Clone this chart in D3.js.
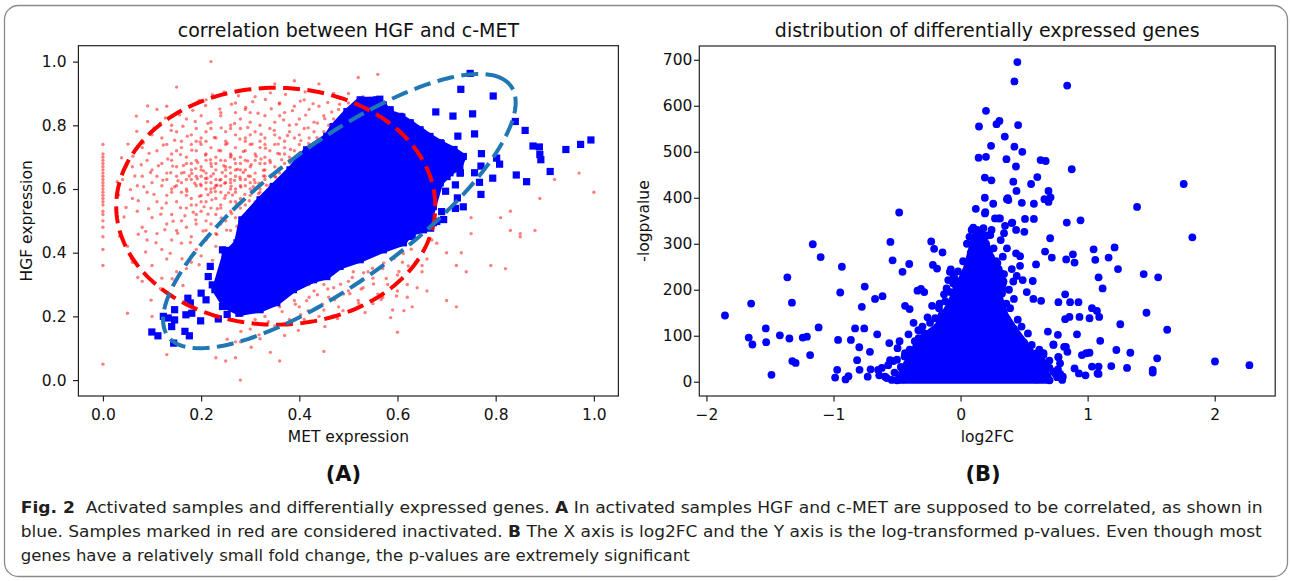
<!DOCTYPE html>
<html>
<head>
<meta charset="utf-8">
<script src="https://cdn.jsdelivr.net/npm/d3@7"></script>
<style>
  body { margin: 0; background: #fff; }
  svg text { font-family: "DejaVu Sans", sans-serif; }
</style>
</head>
<body>
<svg id="fig" width="1290" height="581"></svg>
<script>
// ---- panel A data: [MET expression, HGF expression] ----
const inactiveSamples = [
  [0.15,0.92],[0.18,0.86],[0.21,0.88],[0.27,0.87],[0.31,0.89],[0.35,0.93],[0.39,0.94],[0.44,0.93],[0.41,0.88],[0.47,0.9],
  [0.52,0.95],[0.56,0.96],[0.22,1.0],[0.29,0.85],[0.36,0.87],[0.24,0.84],[0.13,0.86],[0.11,0.85],[0.2,0.83],[0.5,0.9],
  [0.14,0.8],[0.17,0.82],[0.19,0.79],[0.22,0.81],[0.24,0.83],[0.26,0.8],[0.28,0.82],[0.3,0.84],[0.32,0.8],[0.33,0.83],
  [0.35,0.81],[0.37,0.84],[0.38,0.8],[0.4,0.82],[0.42,0.85],[0.43,0.81],[0.45,0.83],[0.46,0.8],[0.48,0.85],[0.3,0.81],
  [0.27,0.84],[0.36,0.83],[0.39,0.86],[0.44,0.86],[0.5,0.87],[0.25,0.78],[0.21,0.78],[0.47,0.82],[0.49,0.8],[0.53,0.89],
  [0.1,0.77],[0.12,0.76],[0.15,0.78],[0.16,0.75],[0.18,0.77],[0.2,0.76],[0.22,0.79],[0.23,0.76],[0.25,0.75],[0.27,0.77],
  [0.28,0.79],[0.29,0.76],[0.31,0.78],[0.33,0.76],[0.34,0.79],[0.35,0.77],[0.37,0.75],[0.38,0.78],[0.39,0.76],[0.41,0.79],
  [0.42,0.76],[0.43,0.78],[0.44,0.75],[0.45,0.78],[0.46,0.76],[0.47,0.79],[0.32,0.75],[0.26,0.79],[0.19,0.75],[0.4,0.77],
  [0.36,0.76],[0.3,0.77],[0.08,0.73],[0.11,0.72],[0.13,0.74],[0.14,0.71],[0.16,0.73],[0.17,0.7],[0.19,0.72],[0.2,0.74],
  [0.21,0.71],[0.22,0.73],[0.23,0.7],[0.24,0.72],[0.25,0.74],[0.26,0.71],[0.27,0.73],[0.28,0.7],[0.29,0.72],[0.3,0.74],
  [0.31,0.71],[0.32,0.73],[0.33,0.7],[0.34,0.72],[0.35,0.74],[0.36,0.71],[0.37,0.73],[0.38,0.7],[0.39,0.72],[0.4,0.74],
  [0.41,0.71],[0.42,0.73],[0.43,0.74],[0.21,0.75],[0.29,0.75],[0.18,0.74],[0.33,0.74],[0.26,0.7],[0.15,0.72],[0.37,0.71],
  [0.06,0.67],[0.09,0.69],[0.1,0.66],[0.12,0.68],[0.13,0.65],[0.14,0.69],[0.15,0.67],[0.16,0.65],[0.17,0.68],[0.18,0.66],
  [0.19,0.69],[0.2,0.67],[0.21,0.65],[0.22,0.68],[0.23,0.66],[0.24,0.69],[0.25,0.67],[0.26,0.65],[0.27,0.68],[0.28,0.66],
  [0.29,0.69],[0.3,0.67],[0.31,0.65],[0.32,0.68],[0.33,0.66],[0.34,0.69],[0.35,0.67],[0.36,0.65],[0.37,0.68],[0.38,0.69],
  [0.39,0.67],[0.21,0.69],[0.25,0.66],[0.28,0.68],[0.31,0.69],[0.18,0.68],[0.23,0.68],[0.27,0.66],[0.33,0.68],[0.2,0.66],
  [0.29,0.66],[0.04,0.63],[0.07,0.61],[0.08,0.64],[0.1,0.62],[0.11,0.64],[0.12,0.61],[0.13,0.63],[0.14,0.6],[0.15,0.64],
  [0.16,0.62],[0.17,0.6],[0.18,0.63],[0.19,0.61],[0.2,0.64],[0.21,0.62],[0.22,0.6],[0.23,0.63],[0.24,0.61],[0.25,0.64],
  [0.26,0.62],[0.27,0.6],[0.28,0.63],[0.29,0.61],[0.3,0.64],[0.31,0.62],[0.32,0.6],[0.33,0.63],[0.34,0.61],[0.35,0.64],
  [0.36,0.62],[0.19,0.64],[0.22,0.62],[0.24,0.63],[0.26,0.6],[0.28,0.61],[0.3,0.62],[0.21,0.6],[0.23,0.61],[0.25,0.62],
  [0.27,0.64],[0.29,0.63],[0.31,0.6],[0.33,0.64],[0.17,0.63],[0.2,0.61],[0.15,0.61],[0.26,0.63],[0.22,0.64],[0.06,0.57],
  [0.09,0.59],[0.11,0.56],[0.13,0.58],[0.15,0.56],[0.16,0.59],[0.18,0.57],[0.19,0.55],[0.2,0.58],[0.21,0.56],[0.22,0.59],
  [0.23,0.57],[0.24,0.55],[0.25,0.58],[0.26,0.56],[0.27,0.59],[0.28,0.57],[0.29,0.55],[0.3,0.58],[0.31,0.56],[0.32,0.59],
  [0.33,0.57],[0.24,0.59],[0.2,0.56],[0.27,0.56],[0.17,0.58],[0.14,0.59],[0.3,0.6],[0.07,0.53],[0.1,0.51],[0.12,0.54],
  [0.14,0.52],[0.16,0.5],[0.17,0.54],[0.19,0.52],[0.21,0.5],[0.22,0.54],[0.23,0.52],[0.25,0.5],[0.26,0.53],[0.27,0.51],
  [0.28,0.54],[0.29,0.52],[0.2,0.53],[0.24,0.54],[0.18,0.55],[0.08,0.48],[0.11,0.46],[0.13,0.49],[0.15,0.47],[0.18,0.45],
  [0.19,0.49],[0.21,0.47],[0.23,0.46],[0.24,0.49],[0.26,0.47],[0.22,0.49],[0.17,0.48],[0.05,0.42],[0.09,0.44],[0.12,0.41],
  [0.16,0.43],[0.19,0.41],[0.21,0.44],[0.23,0.42],[0.14,0.44],[0.06,0.37],[0.1,0.36],[0.13,0.38],[0.15,0.34],[0.18,0.37],
  [0.2,0.39],[0.08,0.31],[0.12,0.32],[0.17,0.35],[0.05,0.21],[0.1,0.2],[0.13,0.08],[0.23,0.07],[0.25,0.06],[0.27,0.07],
  [0.28,0.0],[0.36,0.06],[0.45,0.09],[0.27,0.12],[0.28,0.12],[0.3,0.16],[0.32,0.13],[0.37,0.14],[0.33,0.2],[0.36,0.23],
  [0.39,0.25],[0.4,0.23],[0.42,0.26],[0.43,0.28],[0.45,0.22],[0.47,0.29],[0.48,0.23],[0.5,0.31],[0.51,0.34],[0.52,0.25],
  [0.53,0.29],[0.55,0.32],[0.56,0.27],[0.57,0.35],[0.58,0.3],[0.59,0.22],[0.6,0.33],[0.61,0.37],[0.62,0.26],[0.63,0.23],
  [0.65,0.36],[0.66,0.38],[0.65,0.34],[0.67,0.44],[0.68,0.43],[0.7,0.4],[0.7,0.25],[0.72,0.23],[0.72,0.36],[0.73,0.4],
  [0.74,0.34],[0.75,0.46],[0.75,0.51],[0.79,0.36],[0.81,0.51],[0.82,0.35],[0.83,0.53],[0.83,0.47],[0.85,0.46],[0.85,0.45],
  [0.88,0.47],[0.89,0.57],[0.92,0.63],[0.97,0.65],[1.0,0.59],[0.6,0.15],[0.41,0.19],[0.44,0.2],[0.46,0.26],[0.49,0.27],
  [0.38,0.19],[0.35,0.17],[0.31,0.19],[0.29,0.21],[0.42,0.3],[0.45,0.3],[0.5,0.28],[0.54,0.34],[0.55,0.24],[0.57,0.26],
  [0.6,0.28],[0.62,0.3],[0.64,0.29],[0.66,0.28],
  [0,0.74],[0,0.71],[0,0.7],[0,0.69],[0,0.68],[0,0.67],[0,0.66],[0,0.65],[0,0.64],[0,0.63],[0,0.62],[0,0.61],[0,0.6],
  [0,0.59],[0,0.58],[0,0.57],[0,0.56],[0,0.55],[0,0.53],[0,0.52],[0,0.5],[0,0.48],[0,0.45],[0,0.41],[0,0.36],[0,0.05],
  [0.212,0.634],[0.187,0.618],[0.243,0.652],[0.268,0.627],[0.296,0.641],[0.318,0.618],[0.227,0.603],[0.256,0.588],
  [0.281,0.606],[0.205,0.657],[0.176,0.641],[0.153,0.626],[0.138,0.651],[0.164,0.674],[0.193,0.683],[0.221,0.671],
  [0.249,0.689],[0.274,0.662],[0.302,0.676],[0.327,0.659],[0.341,0.683],[0.358,0.664],[0.312,0.703],[0.286,0.718],
  [0.261,0.705],[0.236,0.721],[0.209,0.707],[0.181,0.722],[0.158,0.708],[0.132,0.694],[0.113,0.673],[0.097,0.652],
  [0.122,0.628],[0.146,0.607],[0.171,0.593],[0.197,0.577],[0.222,0.566],[0.248,0.571],[0.273,0.552],[0.298,0.563],
  [0.233,0.538],[0.206,0.544],[0.184,0.527],[0.158,0.541],[0.129,0.556],[0.104,0.583],[0.083,0.607],[0.065,0.641],
  [0.078,0.676],[0.094,0.712],[0.123,0.738],[0.146,0.753],[0.172,0.766],[0.198,0.748],[0.227,0.762],[0.253,0.743],
  [0.279,0.757],[0.304,0.741],[0.331,0.728],[0.357,0.741],[0.382,0.724],[0.403,0.752],[0.376,0.768],[0.349,0.784],
  [0.322,0.772],[0.295,0.793],[0.268,0.806],[0.241,0.792],[0.214,0.806],[0.188,0.812],[0.163,0.797],[0.139,0.784],
  [0.117,0.807],[0.156,0.833],[0.183,0.847],[0.209,0.862],[0.238,0.851],[0.262,0.866],[0.291,0.856],[0.316,0.838],
  [0.343,0.852],[0.368,0.817],[0.394,0.803],[0.418,0.792],[0.437,0.807],[0.452,0.821],[0.466,0.842],[0.413,0.832],
  [0.386,0.846],[0.359,0.867],[0.331,0.881],[0.305,0.874],[0.276,0.893],[0.247,0.905],[0.223,0.896],[0.196,0.878],
  [0.341,0.902],[0.372,0.897],[0.402,0.876],[0.428,0.868],[0.458,0.872],[0.482,0.866],[0.477,0.888],[0.412,0.905],
  [0.436,0.761],[0.419,0.743],[0.392,0.701],[0.364,0.692],[0.371,0.653],[0.352,0.637],[0.333,0.612],[0.317,0.585],
  [0.303,0.532],[0.287,0.511],[0.262,0.523],[0.241,0.509],[0.214,0.521],[0.189,0.503],[0.167,0.516],[0.143,0.499],
  [0.118,0.521],[0.093,0.538],[0.072,0.563],[0.056,0.598],[0.048,0.672],[0.061,0.703],[0.082,0.744],[0.104,0.792],
  [0.127,0.823],[0.273,0.483],[0.252,0.471],[0.232,0.457],[0.204,0.468],[0.178,0.432],[0.152,0.461],[0.126,0.472],
  [0.108,0.431],[0.087,0.402],[0.137,0.398],[0.161,0.381],[0.196,0.362],[0.223,0.376],[0.243,0.352],[0.072,0.458],
  [0.043,0.512],[0.032,0.581],[0.029,0.623],[0.038,0.698],[0.051,0.741],[0.069,0.781],[0.091,0.812],[0.214,0.582],
  [0.229,0.592],[0.261,0.609],[0.238,0.628],[0.199,0.615],[0.181,0.649],[0.225,0.648],[0.259,0.668],[0.286,0.652],
  [0.308,0.629],[0.342,0.642],[0.289,0.583],[0.264,0.581],[0.209,0.633],[0.248,0.618],[0.279,0.637],[0.219,0.692],
  [0.246,0.673],[0.268,0.694],[0.295,0.688],[0.322,0.694],[0.189,0.664],[0.165,0.652],[0.142,0.672],[0.192,0.632],
  [0.232,0.612],[0.306,0.607],[0.327,0.641],[0.356,0.712],[0.381,0.683],[0.401,0.714],[0.421,0.727],[0.446,0.742],
  [0.463,0.786],[0.479,0.812],
  [0.365,0.215],[0.392,0.238],[0.415,0.249],[0.437,0.268],[0.458,0.286],[0.484,0.301],[0.508,0.322],[0.531,0.337],
  [0.549,0.351],[0.572,0.368],[0.593,0.382],[0.612,0.397],[0.628,0.411],[0.418,0.218],[0.447,0.238],[0.472,0.252],
  [0.503,0.271],[0.526,0.286],[0.551,0.302],[0.577,0.319],[0.603,0.341],[0.622,0.358],[0.641,0.379],[0.337,0.183],
  [0.372,0.178],[0.403,0.205],[0.489,0.218],[0.521,0.241],[0.567,0.253],[0.598,0.264],[0.613,0.218],[0.586,0.196],
  [0.534,0.212],[0.478,0.193],[0.452,0.168],[0.398,0.156],[0.318,0.142],[0.281,0.153],[0.302,0.103],[0.341,0.087],
  [0.253,0.128],[0.047,0.542],[0.058,0.381],[0.071,0.322],[0.098,0.251],[0.117,0.287],[0.141,0.318],[0.163,0.297],
  [0.087,0.467],[0.034,0.452],[0.068,0.829],[0.091,0.861]
];

// solid mass of activated samples (outline) and the scattered ones around it
const activeCore = [
  [0.524,0.88],[0.558,0.88],[0.571,0.864],[0.585,0.839],[0.605,0.828],[0.626,0.808],[0.646,0.786],[0.666,0.765],
  [0.687,0.745],[0.714,0.723],[0.734,0.702],[0.727,0.671],[0.707,0.651],[0.687,0.619],[0.673,0.545],[0.666,0.503],
  [0.653,0.472],[0.626,0.462],[0.612,0.431],[0.571,0.409],[0.524,0.378],[0.483,0.357],[0.456,0.325],[0.429,0.315],
  [0.388,0.284],[0.354,0.243],[0.32,0.221],[0.279,0.211],[0.249,0.233],[0.228,0.284],[0.249,0.394],[0.273,0.431],
  [0.283,0.503],[0.32,0.566],[0.347,0.608],[0.381,0.66],[0.415,0.723],[0.456,0.765],[0.469,0.796],[0.497,0.843]
];
const activeSamples = [
  [0.0996,0.151],[0.112,0.139],[0.144,0.116],[0.14,0.168],[0.123,0.2],[0.133,0.195],[0.146,0.189],[0.146,0.221],
  [0.167,0.153],[0.176,0.139],[0.169,0.205],[0.181,0.21],[0.173,0.257],[0.178,0.242],[0.199,0.186],[0.2,0.273],
  [0.21,0.252],[0.2145,0.325],[0.2186,0.357],[0.235,0.192],[0.2435,0.231],[0.2435,0.409],[0.252,0.407],[0.2227,0.299],
  [0.253,0.206],[0.277,0.21],[0.302,0.221],
  [0.529,0.87],[0.564,0.882],[0.549,0.878],[0.585,0.849],[0.609,0.826],[0.609,0.807],[0.626,0.786],[0.624,0.749],
  [0.5,0.833],[0.522,0.849],[0.576,0.765],
  [0.647,0.723],[0.659,0.702],[0.672,0.681],[0.688,0.681],[0.705,0.702],[0.711,0.718],[0.726,0.671],[0.7275,0.65],
  [0.718,0.613],[0.701,0.639],[0.68,0.608],[0.659,0.556],[0.6635,0.524],[0.655,0.482],[0.6385,0.514],[0.6427,0.472],
  [0.63,0.451],[0.68,0.498],[0.6675,0.477],
  [0.748,0.963],[0.729,0.913],[0.795,0.892],[0.678,0.842],[0.713,0.829],[0.753,0.836],[0.757,0.773],[0.723,0.766],
  [0.84,0.812],[0.86,0.784],[0.673,0.75],[0.689,0.743],[0.715,0.724],[0.994,0.754],[0.973,0.74],[0.943,0.724],
  [0.876,0.735],[0.889,0.732],[0.89,0.708],[0.892,0.692],[0.911,0.655],[0.802,0.697],[0.808,0.678],[0.771,0.711],
  [0.77,0.672],[0.757,0.651],[0.842,0.644],[0.863,0.623],[0.794,0.634],[0.767,0.621],[0.77,0.583],[0.722,0.572],
  [0.734,0.544],[0.718,0.539],[0.698,0.593],[0.69,0.529],[0.694,0.504],[0.673,0.494],[0.707,0.682],[0.728,0.651]
];
// dashed ellipses drawn on panel A (data units, angle in degrees)
const inactiveEllipse = { cx: 0.352, cy: 0.546, w: 0.65, h: 0.744, angle: 0 };
const activeEllipse = { cx: 0.4816, cy: 0.5306, w: 1.064, h: 0.355, angle: 51.5 };

const ticksA = [0, 0.2, 0.4, 0.6, 0.8, 1.0];

// ---- panel B data: [log2FC, -logpvalue] ----
const geneCore = [
  [-0.5,3],[-0.42,40],[-0.35,75],[-0.28,100],[-0.18,120],[-0.12,150],[-0.06,180],[-0.02,210],[0.04,240],[0.08,280],
  [0.11,315],[0.16,322],[0.2,300],[0.24,270],[0.27,230],[0.3,190],[0.34,150],[0.42,115],[0.5,85],[0.58,55],
  [0.66,25],[0.7,3]
];
const genes = [
  [0.447,695],[0.424,653],[0.839,644],[0.2,589],[0.145,555],[0.283,560],[0.306,567],[0.453,558],[0.348,533],[0.24,513],
  [0.424,511],[0.486,500],[0.142,487],[0.2,489],[0.361,484],[0.436,468],[0.63,482],[0.67,480],[0.875,462],[0.191,444],
  [0.243,438],[0.415,435],[0.555,430],[0.604,445],[0.692,415],[0.708,401],[0.692,391],[0.66,397],[0.191,400],[0.371,399],
  [0.365,397],[0.44,415],[0.482,389],[0.577,387],[0.257,387],[0.12,376],[0.195,369],[0.3,355],[0.407,346],[0.507,354],
  [0.577,354],[0.836,346],[0.944,351],[1.756,430],[1.389,380],[1.824,314],
  [0.376,395],[0.192,366],[0.271,355],[0.31,355],[0.35,339],[0.403,345],[0.437,330],[0.502,326],[0.342,323],[0.705,312],
  [1.047,288],[1.212,292],[1.165,270],[1.06,265],[0.665,283],[0.718,270],[0.831,266],[0.884,277],[0.897,259],[0.437,279],
  [0.468,273],[0.594,255],[0.468,252],[1.239,245],[1.441,234],[1.555,227],[1.086,227],[1.118,203],[0.342,234],[0.403,245],
  [0.442,230],[0.489,221],[0.568,219],[0.415,218],[0.331,212],[0.521,195],[0.42,180],[0.573,180],[0.634,176],[0.77,173],
  [0.823,190],[0.862,173],[0.928,173],[1.034,160],[1.073,154],[1.091,141],[1.015,138],[0.936,141],[0.857,141],[0.823,136],
  [1.463,150],[1.257,125],[1.626,113],[0.916,103],[0.766,102],[0.687,109],[1.099,89],[0.731,81],[0.815,76],[0.841,65],
  [1.226,69],[1.336,63],[1.547,51],[0.955,58],[0.989,62],[1.015,63],[2.002,44],[2.273,36],[1.186,34],[1.31,30],
  [1.512,26],[1.512,20],[1.034,33],[1.086,33],[1.086,17],[0.897,29],[0.805,11],[0.784,17],[0.77,54],[0.699,46],
  [0.534,62],[0.573,58],[0.652,58],[0.744,18],[0.612,29],[0.679,33],[0.56,18],[0.8,4],[0.983,14],[1.078,18],
  [0.829,76],[0.731,80],[0.679,40],[0.77,53],[0.783,40],[0.766,27],[0.931,18],[0.6,62],[0.623,57],[0.653,62],
  [-0.483,368],[-0.552,304],[-0.535,264],[-1.163,299],[-1.101,271],[-0.934,250],[-0.947,194],[-1.363,227],[-1.327,172],
  [-1.648,170],[-1.854,144],[-0.754,207],[-0.777,163],[-0.673,180],[-0.614,186],[-0.404,256],[-0.457,239],[-0.231,305],
  [-0.208,289],[-0.142,281],[-0.218,254],[-0.185,246],[-0.437,165],[-0.401,158],[-0.339,198],[-0.286,195],[-0.312,202],
  [-1.117,118],[-1.533,116],[-1.667,96],[-1.638,81],[-1.53,86],[-1.422,101],[-1.347,94],[-1.242,96],[-1.209,98],
  [-1.488,15],[-1.324,45],[-1.298,41],[-1.184,58],[-0.964,91],[-0.863,91],[-0.83,116],[-0.758,116],[-0.797,75],
  [-0.814,47],[-0.713,65],[-0.795,26],[-0.987,9],[-0.971,26],[-0.905,5],[-0.882,12],[-0.656,103],[-0.731,11],
  [-0.708,27],[-0.649,26],[-0.561,84],[-0.496,73],[-0.555,47],[-0.529,45],[-0.437,62],[-0.594,11],[-0.541,4],
  [-0.26,140],[-0.224,165],[-0.165,170],[-0.332,112],[-0.286,105],
  [-0.077,244],[-0.054,231],[-0.034,205],[-0.011,192],[0.044,236],[0.064,250],[0.087,265],[0.113,273],[0.097,294],
  [0.12,314],[0.087,330],[0.159,325],[0.234,319],[0.244,330],[0.316,308],[0.365,290],[0.332,272],[0.29,258],
  [0.273,243],[0.316,236],[0.338,218],[0.296,209],[0.381,200],[0.326,192],
  [-0.084,239],[-0.097,221],[-0.058,214],[-0.11,203],[-0.032,185],[-0.13,190],
  [-0.58,8],[-0.52,20],[-0.47,32],[-0.5,48],[-0.44,55],[-0.4,70],[-0.36,88],[-0.33,95],[-0.3,120],[-0.24,128],
  [-0.2,138],[-0.15,145],[-0.17,160],[-0.12,175],[-0.08,195],[-0.05,225],[-0.02,240],[0.02,262],[0.05,300],[0.07,315],
  [0.1,335],[0.13,330],[0.18,334],[0.21,318],[0.26,290],[0.28,262],[0.3,245],[0.31,225],[0.33,200],[0.36,170],
  [0.39,160],[0.45,135],[0.48,120],[0.53,105],[0.56,80],[0.62,70],[0.64,45],[0.7,30],[0.73,22],[0.76,10],
  [0.68,12],[0.6,5],[-0.45,5],[-0.38,12],[-0.64,14],[-0.62,30],[-0.57,36],[-0.48,88],[-0.41,103],[-0.37,128]
];
const xTicksB = [-2, -1, 0, 1, 2];
const yTicksB = [0, 100, 200, 300, 400, 500, 600, 700];

const caption = [
  [["Fig. 2", true], ["  Activated samples and differentially expressed genes. ", false], ["A", true],
   [" In activated samples HGF and c-MET are supposed to be correlated, as shown in", false]],
  [["blue. Samples marked in red are considered inactivated. ", false], ["B", true],
   [" The X axis is log2FC and the Y axis is the log-transformed p-values. Even though most", false]],
  [["genes have a relatively small fold change, the p-values are extremely significant", false]]
];
const captionWidths = [1242, 1241, 669];

// ---------------------------------------------------------------
const svg = d3.select('#fig');
const tickFont = 15.5, labelFont = 15.5, titleFont = 19;

svg.append('rect')
  .attr('x', 4.5).attr('y', 5.5).attr('width', 1283).attr('height', 571)
  .attr('rx', 14).attr('fill', 'none').attr('stroke', '#8a8a8a').attr('stroke-width', 1.3);

function frame(g, x, y, xTicks, xFmt, yTicks, yFmt, yPad) {
  const [x0, x1] = x.range(), [y0, y1] = y.range();
  const xa = g.append('g').attr('transform', `translate(0,${y0})`)
    .call(d3.axisBottom(x).tickValues(xTicks).tickFormat(xFmt).tickSize(5.4).tickPadding(7.5));
  const ya = g.append('g').attr('transform', `translate(${x0},0)`)
    .call(d3.axisLeft(y).tickValues(yTicks).tickFormat(yFmt).tickSize(5.4).tickPadding(yPad));
  [xa, ya].forEach(a => {
    a.select('.domain').remove();
    a.selectAll('line').attr('stroke', '#222').attr('stroke-width', 1.2);
    a.selectAll('text').attr('font-size', tickFont).attr('fill', '#111')
      .attr('font-family', '"DejaVu Sans", sans-serif');
  });
  g.append('rect').attr('x', x0).attr('y', y1).attr('width', x1 - x0).attr('height', y0 - y1)
    .attr('fill', 'none').attr('stroke', '#222').attr('stroke-width', 1.2);
}

function clip(id, x, y) {
  svg.append('clipPath').attr('id', id).append('rect')
    .attr('x', x.range()[0]).attr('y', y.range()[1])
    .attr('width', x.range()[1] - x.range()[0]).attr('height', y.range()[0] - y.range()[1]);
}

function texts(g, x, y, title, xl, yl, ylX) {
  const cx = (x.range()[0] + x.range()[1]) / 2, cy = (y.range()[0] + y.range()[1]) / 2;
  g.append('text').attr('x', cx).attr('y', 36.5).attr('text-anchor', 'middle')
    .attr('font-size', titleFont).attr('fill', '#111').text(title);
  g.append('text').attr('x', cx).attr('y', 442).attr('text-anchor', 'middle')
    .attr('font-size', labelFont).attr('fill', '#111').text(xl);
  g.append('text').attr('transform', `translate(${ylX},${cy}) rotate(-90)`).attr('text-anchor', 'middle')
    .attr('font-size', labelFont).attr('fill', '#111').text(yl);
}

// ---- panel A ----
const xA = d3.scaleLinear().domain([-0.05, 1.05]).range([78.4, 618.4]);
const yA = d3.scaleLinear().domain([-0.05, 1.05]).range([396, 45.7]);
clip('clipA', xA, yA);
const gA = svg.append('g');
const plotA = gA.append('g').attr('clip-path', 'url(#clipA)');

plotA.selectAll('circle.inactive').data(inactiveSamples).enter().append('circle')
  .attr('class', 'inactive')
  .attr('cx', d => xA(d[0])).attr('cy', d => yA(d[1])).attr('r', 1.7)
  .attr('fill', '#ff0000').attr('fill-opacity', 0.5);

plotA.append('path').datum(activeCore)
  .attr('d', d3.line().x(d => xA(d[0])).y(d => yA(d[1])).curve(d3.curveLinearClosed))
  .attr('fill', '#0000ff').attr('stroke', '#0000ff').attr('stroke-width', 6).attr('stroke-linejoin', 'miter');

const sq = 7.2;
plotA.selectAll('rect.active').data(activeCore.concat(activeSamples)).enter().append('rect')
  .attr('class', 'active')
  .attr('x', d => xA(d[0]) - sq / 2).attr('y', d => yA(d[1]) - sq / 2)
  .attr('width', sq).attr('height', sq).attr('fill', '#0000ff');

function ellipsePoints(e) {
  const a = e.angle * Math.PI / 180;
  return d3.range(0, 361, 2).map(deg => {
    const t = deg * Math.PI / 180;
    const u = e.w / 2 * Math.cos(t), v = e.h / 2 * Math.sin(t);
    return [e.cx + u * Math.cos(a) - v * Math.sin(a), e.cy + u * Math.sin(a) + v * Math.cos(a)];
  });
}
const lineA = d3.line().x(d => xA(d[0])).y(d => yA(d[1]));
plotA.append('path').datum(ellipsePoints(inactiveEllipse)).attr('d', lineA)
  .attr('fill', 'none').attr('stroke', '#ff0000').attr('stroke-width', 4).attr('stroke-dasharray', '17 7.4');
plotA.append('path').datum(ellipsePoints(activeEllipse)).attr('d', lineA)
  .attr('fill', 'none').attr('stroke', '#1f77b4').attr('stroke-width', 4).attr('stroke-dasharray', '17 7.4');

frame(gA, xA, yA, ticksA, d3.format('.1f'), ticksA, d3.format('.1f'), 6.5);
texts(gA, xA, yA, 'correlation between HGF and c-MET', 'MET expression', 'HGF expression', 31.5);

// ---- panel B ----
const xB = d3.scaleLinear().domain([-2.056, 2.476]).range([699.3, 1275.2]);
const yB = d3.scaleLinear().domain([-31, 730]).range([396, 46]);
clip('clipB', xB, yB);
const gB = svg.append('g');
const plotB = gB.append('g').attr('clip-path', 'url(#clipB)');

plotB.append('path').datum(geneCore)
  .attr('d', d3.line().x(d => xB(d[0])).y(d => yB(d[1])).curve(d3.curveLinearClosed))
  .attr('fill', '#0000ff').attr('stroke', '#0000ff').attr('stroke-width', 7).attr('stroke-linejoin', 'round');

plotB.selectAll('circle.gene').data(geneCore.concat(genes)).enter().append('circle')
  .attr('class', 'gene')
  .attr('cx', d => xB(d[0])).attr('cy', d => yB(d[1])).attr('r', 3.9)
  .attr('fill', '#0000ff');

frame(gB, xB, yB, xTicksB, d3.format('d'), yTicksB, d3.format('d'), 1.5);
texts(gB, xB, yB, 'distribution of differentially expressed genes', 'log2FC', '-logpvalue', 649);

// ---- panel letters and caption ----
[['(A)', 343.5], ['(B)', 983]].forEach(([t, x]) => {
  svg.append('text').attr('x', x).attr('y', 481).attr('text-anchor', 'middle')
    .attr('font-size', 21).attr('font-weight', 'bold').attr('fill', '#111').text(t);
});

caption.forEach((line, i) => {
  const t = svg.append('text').attr('x', 20.7).attr('y', 512.5 + i * 24)
    .attr('font-family', '"Open Sans", sans-serif').attr('font-size', 16).attr('fill', '#231f20')
    .attr('textLength', captionWidths[i]).attr('lengthAdjust', 'spacingAndGlyphs')
    .style('white-space', 'pre');
  line.forEach(([s, b]) => {
    t.append('tspan').attr('font-weight', b ? 'bold' : 'normal').text(s);
  });
});
</script>
</body>
</html>
